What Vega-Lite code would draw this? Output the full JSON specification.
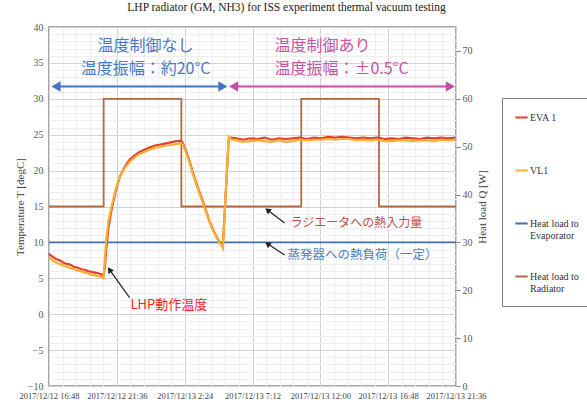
{
  "$schema": "https://vega.github.io/schema/vega-lite/v6.json",
  "width": 407,
  "height": 359,
  "autosize": {"type": "none"},
  "padding": {"left": 49, "top": 27, "right": 131, "bottom": 17},
  "background": "white",
  "config": {
    "view": {"stroke": "#8c8c8c", "strokeWidth": 1.5},
    "font": "Liberation Serif",
    "axis": {"labelFont": "Liberation Serif", "titleFont": "Liberation Serif"},
    "legend": {"labelFont": "Liberation Serif"}
  },
  "title": {
    "text": "LHP radiator (GM, NH3) for ISS experiment thermal vacuum testing",
    "font": "Liberation Serif",
    "fontSize": 11.5,
    "fontWeight": "normal",
    "color": "#222222",
    "anchor": "middle",
    "dx": 34,
    "offset": 9
  },
  "encoding": {
    "x": {
      "field": "t",
      "type": "temporal",
      "scale": {
        "domain": [
          {"year": 2017, "month": 12, "date": 12, "hours": 16, "minutes": 48},
          {"year": 2017, "month": 12, "date": 13, "hours": 21, "minutes": 36}
        ],
        "nice": false
      },
      "axis": {
        "title": null,
        "values": [
          {"year": 2017, "month": 12, "date": 12, "hours": 16, "minutes": 48, "seconds": 0},
          {"year": 2017, "month": 12, "date": 12, "hours": 16, "minutes": 48, "seconds": 3456},
          {"year": 2017, "month": 12, "date": 12, "hours": 16, "minutes": 48, "seconds": 6912},
          {"year": 2017, "month": 12, "date": 12, "hours": 16, "minutes": 48, "seconds": 10368},
          {"year": 2017, "month": 12, "date": 12, "hours": 16, "minutes": 48, "seconds": 13824},
          {"year": 2017, "month": 12, "date": 12, "hours": 16, "minutes": 48, "seconds": 17280},
          {"year": 2017, "month": 12, "date": 12, "hours": 16, "minutes": 48, "seconds": 20736},
          {"year": 2017, "month": 12, "date": 12, "hours": 16, "minutes": 48, "seconds": 24192},
          {"year": 2017, "month": 12, "date": 12, "hours": 16, "minutes": 48, "seconds": 27648},
          {"year": 2017, "month": 12, "date": 12, "hours": 16, "minutes": 48, "seconds": 31104},
          {"year": 2017, "month": 12, "date": 12, "hours": 16, "minutes": 48, "seconds": 34560},
          {"year": 2017, "month": 12, "date": 12, "hours": 16, "minutes": 48, "seconds": 38016},
          {"year": 2017, "month": 12, "date": 12, "hours": 16, "minutes": 48, "seconds": 41472},
          {"year": 2017, "month": 12, "date": 12, "hours": 16, "minutes": 48, "seconds": 44928},
          {"year": 2017, "month": 12, "date": 12, "hours": 16, "minutes": 48, "seconds": 48384},
          {"year": 2017, "month": 12, "date": 12, "hours": 16, "minutes": 48, "seconds": 51840},
          {"year": 2017, "month": 12, "date": 12, "hours": 16, "minutes": 48, "seconds": 55296},
          {"year": 2017, "month": 12, "date": 12, "hours": 16, "minutes": 48, "seconds": 58752},
          {"year": 2017, "month": 12, "date": 12, "hours": 16, "minutes": 48, "seconds": 62208},
          {"year": 2017, "month": 12, "date": 12, "hours": 16, "minutes": 48, "seconds": 65664},
          {"year": 2017, "month": 12, "date": 12, "hours": 16, "minutes": 48, "seconds": 69120},
          {"year": 2017, "month": 12, "date": 12, "hours": 16, "minutes": 48, "seconds": 72576},
          {"year": 2017, "month": 12, "date": 12, "hours": 16, "minutes": 48, "seconds": 76032},
          {"year": 2017, "month": 12, "date": 12, "hours": 16, "minutes": 48, "seconds": 79488},
          {"year": 2017, "month": 12, "date": 12, "hours": 16, "minutes": 48, "seconds": 82944},
          {"year": 2017, "month": 12, "date": 12, "hours": 16, "minutes": 48, "seconds": 86400},
          {"year": 2017, "month": 12, "date": 12, "hours": 16, "minutes": 48, "seconds": 89856},
          {"year": 2017, "month": 12, "date": 12, "hours": 16, "minutes": 48, "seconds": 93312},
          {"year": 2017, "month": 12, "date": 12, "hours": 16, "minutes": 48, "seconds": 96768},
          {"year": 2017, "month": 12, "date": 12, "hours": 16, "minutes": 48, "seconds": 100224},
          {"year": 2017, "month": 12, "date": 12, "hours": 16, "minutes": 48, "seconds": 103680}
        ],
        "labelExpr": "abs((datum.value - datetime(2017,11,12,16,48,0,0))/17280000 - round((datum.value - datetime(2017,11,12,16,48,0,0))/17280000)) < 0.01 ? timeFormat(datum.value, '%Y/%m/%d %-H:%M') : ''",
        "labelFont": "Liberation Serif",
        "labelFontSize": 8.5,
        "labelColor": "#404040",
        "labelPadding": 5,
        "labelOverlap": false,
        "labelFlush": false,
        "labelBound": false,
        "ticks": false,
        "domain": false,
        "grid": true,
        "gridColor": {
          "condition": {
            "test": "abs((datum.value - datetime(2017,11,12,16,48,0,0))/17280000 - round((datum.value - datetime(2017,11,12,16,48,0,0))/17280000)) < 0.01",
            "value": "#d2d2d2"
          },
          "value": "#eeeeee"
        },
        "gridWidth": 1
      }
    }
  },
  "layer": [
    {
      "data": {
        "values": [
          {"t": "2017-12-12T16:48:00", "series": "Heat load to Evaporator", "q": 30},
          {"t": "2017-12-13T21:36:00", "series": "Heat load to Evaporator", "q": 30},
          {"t": "2017-12-12T16:48:00", "series": "Heat load to Radiator", "q": 37.5},
          {"t": "2017-12-12T20:40:00", "series": "Heat load to Radiator", "q": 60},
          {"t": "2017-12-13T02:10:00", "series": "Heat load to Radiator", "q": 37.5},
          {"t": "2017-12-13T10:39:00", "series": "Heat load to Radiator", "q": 60},
          {"t": "2017-12-13T16:09:00", "series": "Heat load to Radiator", "q": 37.5},
          {"t": "2017-12-13T21:36:00", "series": "Heat load to Radiator", "q": 37.5}
        ]
      },
      "mark": {"type": "line", "interpolate": "step-after", "strokeWidth": 1.8},
      "encoding": {
        "y": {
          "field": "q",
          "type": "quantitative",
          "scale": {"domain": [0, 75], "nice": false},
          "axis": {
            "orient": "right",
            "values": [0, 10, 20, 30, 40, 50, 60, 70],
            "title": "Heat load   Q   [W]",
            "titleAngle": 270,
            "titleFont": "Liberation Serif",
            "titleFontSize": 11,
            "titleFontWeight": "normal",
            "titleColor": "#404040",
            "titlePadding": 15,
            "labelFont": "Liberation Serif",
            "labelFontSize": 10,
            "labelColor": "#595959",
            "labelPadding": 2,
            "ticks": true,
            "tickSize": 4,
            "tickColor": "#7f7f7f",
            "domain": false,
            "grid": false
          }
        },
        "color": {
          "field": "series",
          "type": "nominal",
          "scale": {
            "domain": ["EVA 1", "VL1", "Heat load to Evaporator", "Heat load to Radiator"],
            "range": ["#e3412b", "#f6b131", "#3e70aa", "#b06b46"]
          },
          "legend": {
            "orient": "none",
            "legendX": 453,
            "legendY": 71,
            "title": null,
            "direction": "vertical",
            "gridAlign": "all",
            "symbolType": "stroke",
            "symbolSize": 150,
            "symbolStrokeWidth": 2,
            "labelFont": "Liberation Serif",
            "labelFontSize": 10,
            "labelColor": "#333333",
            "labelOffset": 1,
            "strokeColor": "#7f7f7f",
            "fillColor": "white",
            "padding": 12,
            "rowPadding": 28,
            "labelExpr": "datum.label == 'Heat load to Evaporator' ? ['Heat load to', 'Evaporator'] : datum.label == 'Heat load to Radiator' ? ['Heat load to', 'Radiator'] : datum.label"
          }
        }
      }
    },
    {
      "encoding": {
        "y": {
          "field": "v",
          "type": "quantitative",
          "scale": {"domain": [-10, 40], "nice": false},
          "axis": {
            "orient": "left",
            "values": [-10, -9, -8, -7, -6, -5, -4, -3, -2, -1, 0, 1, 2, 3, 4, 5, 6, 7, 8, 9, 10, 11, 12, 13, 14, 15, 16, 17, 18, 19, 20, 21, 22, 23, 24, 25, 26, 27, 28, 29, 30, 31, 32, 33, 34, 35, 36, 37, 38, 39, 40],
            "labelExpr": "datum.value % 5 === 0 ? datum.label : ''",
            "title": "Temperature   T   [degC]",
            "titleFont": "Liberation Serif",
            "titleFontSize": 11,
            "titleFontWeight": "normal",
            "titleColor": "#404040",
            "titlePadding": 2,
            "labelFont": "Liberation Serif",
            "labelFontSize": 10,
            "labelColor": "#595959",
            "labelPadding": 6,
            "ticks": false,
            "domain": false,
            "grid": true,
            "gridColor": {
              "condition": {"test": "datum.value % 5 === 0", "value": "#d2d2d2"},
              "value": "#eeeeee"
            }
          }
        }
      },
      "layer": [
        {
          "data": {
            "values": [
              {"t": "2017-12-12T16:48:00", "EVA 1": 8.4, "VL1": 7.9},
              {"t": "2017-12-12T17:03:00", "EVA 1": 8.0, "VL1": 7.5},
              {"t": "2017-12-12T17:18:00", "EVA 1": 7.7, "VL1": 7.2},
              {"t": "2017-12-12T17:33:00", "EVA 1": 7.5, "VL1": 7.0},
              {"t": "2017-12-12T17:48:00", "EVA 1": 7.2, "VL1": 6.8},
              {"t": "2017-12-12T18:03:00", "EVA 1": 7.0, "VL1": 6.6},
              {"t": "2017-12-12T18:18:00", "EVA 1": 6.9, "VL1": 6.4},
              {"t": "2017-12-12T18:33:00", "EVA 1": 6.6, "VL1": 6.3},
              {"t": "2017-12-12T18:48:00", "EVA 1": 6.5, "VL1": 6.1},
              {"t": "2017-12-12T19:03:00", "EVA 1": 6.3, "VL1": 6.0},
              {"t": "2017-12-12T19:18:00", "EVA 1": 6.2, "VL1": 5.8},
              {"t": "2017-12-12T19:33:00", "EVA 1": 6.0, "VL1": 5.7},
              {"t": "2017-12-12T19:48:00", "EVA 1": 5.9, "VL1": 5.5},
              {"t": "2017-12-12T20:03:00", "EVA 1": 5.8, "VL1": 5.4},
              {"t": "2017-12-12T20:18:00", "EVA 1": 5.7, "VL1": 5.3},
              {"t": "2017-12-12T20:33:00", "EVA 1": 5.5, "VL1": 5.1},
              {"t": "2017-12-12T20:39:00", "EVA 1": 5.4, "VL1": 5.0},
              {"t": "2017-12-12T20:45:00", "EVA 1": 6.5, "VL1": 7.5},
              {"t": "2017-12-12T20:51:00", "EVA 1": 9.0, "VL1": 10.3},
              {"t": "2017-12-12T21:00:00", "EVA 1": 12.0, "VL1": 12.9},
              {"t": "2017-12-12T21:12:00", "EVA 1": 14.3, "VL1": 14.8},
              {"t": "2017-12-12T21:30:00", "EVA 1": 17.0, "VL1": 17.3},
              {"t": "2017-12-12T21:48:00", "EVA 1": 19.1, "VL1": 19.1},
              {"t": "2017-12-12T22:09:00", "EVA 1": 20.5, "VL1": 20.3},
              {"t": "2017-12-12T22:30:00", "EVA 1": 21.5, "VL1": 21.2},
              {"t": "2017-12-12T22:51:00", "EVA 1": 22.1, "VL1": 21.8},
              {"t": "2017-12-12T23:12:00", "EVA 1": 22.6, "VL1": 22.3},
              {"t": "2017-12-12T23:33:00", "EVA 1": 22.9, "VL1": 22.6},
              {"t": "2017-12-12T23:54:00", "EVA 1": 23.2, "VL1": 22.9},
              {"t": "2017-12-13T00:18:00", "EVA 1": 23.5, "VL1": 23.2},
              {"t": "2017-12-13T00:36:00", "EVA 1": 23.6, "VL1": 23.3},
              {"t": "2017-12-13T01:06:00", "EVA 1": 23.8, "VL1": 23.5},
              {"t": "2017-12-13T01:33:00", "EVA 1": 24.0, "VL1": 23.6},
              {"t": "2017-12-13T01:51:00", "EVA 1": 24.1, "VL1": 23.7},
              {"t": "2017-12-13T02:09:00", "EVA 1": 24.1, "VL1": 23.8},
              {"t": "2017-12-13T02:18:00", "EVA 1": 23.7, "VL1": 23.5},
              {"t": "2017-12-13T02:30:00", "EVA 1": 22.7, "VL1": 22.5},
              {"t": "2017-12-13T02:45:00", "EVA 1": 21.3, "VL1": 21.1},
              {"t": "2017-12-13T02:57:00", "EVA 1": 19.9, "VL1": 19.7},
              {"t": "2017-12-13T03:12:00", "EVA 1": 18.4, "VL1": 18.2},
              {"t": "2017-12-13T03:27:00", "EVA 1": 17.0, "VL1": 16.8},
              {"t": "2017-12-13T03:42:00", "EVA 1": 15.6, "VL1": 15.4},
              {"t": "2017-12-13T03:57:00", "EVA 1": 14.2, "VL1": 14.0},
              {"t": "2017-12-13T04:09:00", "EVA 1": 13.0, "VL1": 12.9},
              {"t": "2017-12-13T04:24:00", "EVA 1": 11.8, "VL1": 11.7},
              {"t": "2017-12-13T04:42:00", "EVA 1": 10.6, "VL1": 10.5},
              {"t": "2017-12-13T05:00:00", "EVA 1": 9.7, "VL1": 9.6},
              {"t": "2017-12-13T05:06:00", "EVA 1": 9.4, "VL1": 9.2},
              {"t": "2017-12-13T05:31:00", "EVA 1": 24.4, "VL1": 24.7},
              {"t": "2017-12-13T05:39:00", "EVA 1": 24.6, "VL1": 24.4},
              {"t": "2017-12-13T06:03:00", "EVA 1": 24.5, "VL1": 24.2},
              {"t": "2017-12-13T06:33:00", "EVA 1": 24.3, "VL1": 24.0},
              {"t": "2017-12-13T07:03:00", "EVA 1": 24.5, "VL1": 24.1},
              {"t": "2017-12-13T07:33:00", "EVA 1": 24.4, "VL1": 24.2},
              {"t": "2017-12-13T08:03:00", "EVA 1": 24.6, "VL1": 24.1},
              {"t": "2017-12-13T08:33:00", "EVA 1": 24.3, "VL1": 24.0},
              {"t": "2017-12-13T09:03:00", "EVA 1": 24.5, "VL1": 24.2},
              {"t": "2017-12-13T09:33:00", "EVA 1": 24.4, "VL1": 24.0},
              {"t": "2017-12-13T10:03:00", "EVA 1": 24.5, "VL1": 24.1},
              {"t": "2017-12-13T10:33:00", "EVA 1": 24.6, "VL1": 24.3},
              {"t": "2017-12-13T11:03:00", "EVA 1": 24.4, "VL1": 24.2},
              {"t": "2017-12-13T11:33:00", "EVA 1": 24.6, "VL1": 24.3},
              {"t": "2017-12-13T12:03:00", "EVA 1": 24.5, "VL1": 24.3},
              {"t": "2017-12-13T12:33:00", "EVA 1": 24.7, "VL1": 24.4},
              {"t": "2017-12-13T13:03:00", "EVA 1": 24.6, "VL1": 24.3},
              {"t": "2017-12-13T13:33:00", "EVA 1": 24.7, "VL1": 24.4},
              {"t": "2017-12-13T14:03:00", "EVA 1": 24.6, "VL1": 24.4},
              {"t": "2017-12-13T14:33:00", "EVA 1": 24.5, "VL1": 24.2},
              {"t": "2017-12-13T15:03:00", "EVA 1": 24.6, "VL1": 24.3},
              {"t": "2017-12-13T15:33:00", "EVA 1": 24.5, "VL1": 24.2},
              {"t": "2017-12-13T16:03:00", "EVA 1": 24.6, "VL1": 24.3},
              {"t": "2017-12-13T16:33:00", "EVA 1": 24.4, "VL1": 24.1},
              {"t": "2017-12-13T17:03:00", "EVA 1": 24.5, "VL1": 24.1},
              {"t": "2017-12-13T17:33:00", "EVA 1": 24.4, "VL1": 24.2},
              {"t": "2017-12-13T18:03:00", "EVA 1": 24.6, "VL1": 24.2},
              {"t": "2017-12-13T18:33:00", "EVA 1": 24.5, "VL1": 24.1},
              {"t": "2017-12-13T19:03:00", "EVA 1": 24.4, "VL1": 24.2},
              {"t": "2017-12-13T19:33:00", "EVA 1": 24.6, "VL1": 24.2},
              {"t": "2017-12-13T20:03:00", "EVA 1": 24.5, "VL1": 24.1},
              {"t": "2017-12-13T20:33:00", "EVA 1": 24.6, "VL1": 24.3},
              {"t": "2017-12-13T21:03:00", "EVA 1": 24.5, "VL1": 24.2},
              {"t": "2017-12-13T21:33:00", "EVA 1": 24.6, "VL1": 24.3}
            ]
          },
          "transform": [{"fold": ["EVA 1", "VL1"], "as": ["series", "v"]}],
          "mark": {"type": "line", "strokeWidth": 2.2},
          "encoding": {
            "color": {"field": "series", "type": "nominal"}
          }
        },
        {
          "data": {"values": [{"t": "2017-12-12T17:18:00", "t2": "2017-12-13T05:06:00", "v": 31.7}]},
          "mark": {"type": "rule", "color": "#4472c4", "strokeWidth": 2},
          "encoding": {"x2": {"field": "t2"}}
        },
        {
          "data": {"values": [{"t": "2017-12-12T17:18:00", "v": 31.7}]},
          "mark": {"type": "point", "shape": "triangle-left", "filled": true, "size": 110, "color": "#4472c4", "opacity": 1}
        },
        {
          "data": {"values": [{"t": "2017-12-13T05:06:00", "v": 31.7}]},
          "mark": {"type": "point", "shape": "triangle-right", "filled": true, "size": 110, "color": "#4472c4", "opacity": 1}
        },
        {
          "data": {"values": [{"t": "2017-12-13T05:52:00", "t2": "2017-12-13T21:12:00", "v": 31.7}]},
          "mark": {"type": "rule", "color": "#c44fa3", "strokeWidth": 2},
          "encoding": {"x2": {"field": "t2"}}
        },
        {
          "data": {"values": [{"t": "2017-12-13T05:52:00", "v": 31.7}]},
          "mark": {"type": "point", "shape": "triangle-left", "filled": true, "size": 110, "color": "#c44fa3", "opacity": 1}
        },
        {
          "data": {"values": [{"t": "2017-12-13T21:12:00", "v": 31.7}]},
          "mark": {"type": "point", "shape": "triangle-right", "filled": true, "size": 110, "color": "#c44fa3", "opacity": 1}
        },
        {
          "data": {"values": [
            {"t": "2017-12-12T23:38:00", "v": 37.3, "label": "温度制御なし"},
            {"t": "2017-12-12T23:38:00", "v": 34.1, "label": "温度振幅：約20°C"}
          ]},
          "mark": {"type": "text", "align": "center", "baseline": "middle", "font": "Noto Sans CJK JP", "fontSize": 16, "color": "#4a78c6"},
          "encoding": {"text": {"field": "label"}}
        },
        {
          "data": {"values": [
            {"t": "2017-12-13T08:45:00", "v": 37.3, "label": "温度制御あり"},
            {"t": "2017-12-13T08:45:00", "v": 34.1, "label": "温度振幅：±0.5°C"}
          ]},
          "mark": {"type": "text", "align": "left", "baseline": "middle", "font": "Noto Sans CJK JP", "fontSize": 16, "color": "#c853a4"},
          "encoding": {"text": {"field": "label"}}
        },
        {
          "data": {"values": [
            {"t": "2017-12-13T09:28:00", "t2": "2017-12-13T08:16:00", "v": 12.7, "v2": 14.5},
            {"t": "2017-12-13T09:28:00", "t2": "2017-12-13T08:16:00", "v": 8.24, "v2": 9.8}
          ]},
          "mark": {"type": "rule", "color": "#222222", "strokeWidth": 1.2},
          "encoding": {"x2": {"field": "t2"}, "y2": {"field": "v2"}}
        },
        {
          "data": {"values": [
            {"t": "2017-12-13T08:16:00", "v": 14.5},
            {"t": "2017-12-13T08:16:00", "v": 9.8}
          ]},
          "mark": {"type": "point", "shape": "triangle-up", "filled": true, "size": 45, "color": "#222222", "opacity": 1, "angle": 306}
        },
        {
          "data": {"values": [{"t": "2017-12-12T22:30:00", "t2": "2017-12-12T21:05:00", "v": 2.3, "v2": 6.2}]},
          "mark": {"type": "rule", "color": "#222222", "strokeWidth": 1.2},
          "encoding": {"x2": {"field": "t2"}, "y2": {"field": "v2"}}
        },
        {
          "data": {"values": [{"t": "2017-12-12T21:05:00", "v": 6.2}]},
          "mark": {"type": "point", "shape": "triangle-up", "filled": true, "size": 45, "color": "#222222", "opacity": 1, "angle": 325}
        },
        {
          "data": {"values": [{"t": "2017-12-13T09:53:00", "v": 12.7, "label": "ラジエータへの熱入力量"}]},
          "mark": {"type": "text", "align": "left", "baseline": "middle", "font": "Noto Sans CJK JP", "fontSize": 12, "color": "#c0504d"},
          "encoding": {"text": {"field": "label"}}
        },
        {
          "data": {"values": [{"t": "2017-12-13T09:41:00", "v": 8.3, "label": "蒸発器への熱負荷（一定）"}]},
          "mark": {"type": "text", "align": "left", "baseline": "middle", "font": "Noto Sans CJK JP", "fontSize": 12.5, "color": "#4f81bd"},
          "encoding": {"text": {"field": "label"}}
        },
        {
          "data": {"values": [{"t": "2017-12-12T22:34:00", "v": 1.3, "label": "LHP動作温度"}]},
          "mark": {"type": "text", "align": "left", "baseline": "middle", "font": "Noto Sans CJK JP", "fontSize": 13, "color": "#ff2222"},
          "encoding": {"text": {"field": "label"}}
        }
      ]
    }
  ],
  "resolve": {"scale": {"y": "independent"}}
}
